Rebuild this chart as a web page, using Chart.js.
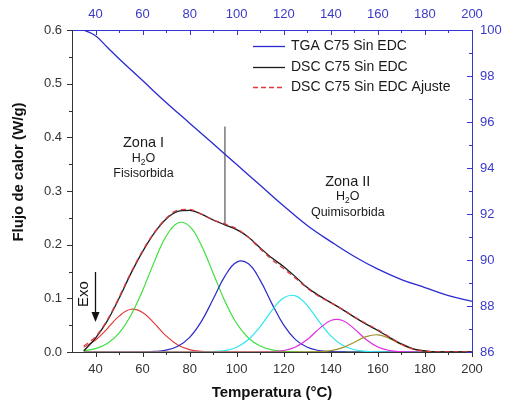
<!DOCTYPE html>
<html><head><meta charset="utf-8">
<script src="https://cdn.jsdelivr.net/npm/chart.js@4/dist/chart.umd.min.js"></script>
<style>html,body{margin:0;padding:0;background:#fff}#wrap{width:508px;height:410px}</style>
</head><body><div id="wrap"><canvas id="c" width="508" height="410"></canvas></div>
<script>
// ---- data ----
const temps = [35,40,45,50,55,60,65,70,75,80,85,90,95,100,105,110,115,120,125,130,135,140,145,150,155,160,165,170,175,180,185,190,195,200];
const dscMeasured = [0.002,0.026,0.058,0.100,0.146,0.187,0.222,0.248,0.262,0.264,0.257,0.246,0.237,0.228,0.214,0.194,0.175,0.159,0.140,0.120,0.105,0.092,0.079,0.065,0.052,0.040,0.027,0.015,0.006,0.002,0,0,0,0];
const dscFit = [0.011,0.0285,0.0596,0.102,0.1477,0.1887,0.2228,0.2491,0.2645,0.2658,0.2567,0.2463,0.2387,0.2297,0.2136,0.1921,0.172,0.155,0.1372,0.1186,0.1035,0.0919,0.0795,0.0656,0.053,0.0414,0.0277,0.0145,0.0055,0.0015,0.0003,0,0,0];
const peakRed = [0.0088,0.0222,0.0437,0.0668,0.0796,0.0738,0.0534,0.030,0.0132,0.0045,0.0012,0.0002,0,0,0,0,0,0,0,0,0,0,0,0,0,0,0,0,0,0,0,0,0,0];
const peakGreen = [0.0022,0.0063,0.0159,0.0352,0.0681,0.1147,0.1684,0.2156,0.2405,0.234,0.1985,0.1468,0.0946,0.0532,0.0261,0.0111,0.0041,0.0014,0.0004,0,0,0,0,0,0,0,0,0,0,0,0,0,0,0];
const peakBlue = [0,0,0,0,0,0.0002,0.001,0.0035,0.0108,0.0273,0.057,0.0986,0.1413,0.1675,0.1643,0.1335,0.0897,0.05,0.023,0.0088,0.0028,0.0007,0.0001,0,0,0,0,0,0,0,0,0,0,0];
const peakCyan = [0,0,0,0,0,0,0,0,0,0,0,0.0007,0.0028,0.009,0.0232,0.0475,0.0776,0.1009,0.1046,0.0865,0.057,0.0299,0.0125,0.0042,0.0011,0.0002,0,0,0,0,0,0,0,0];
const peakMagenta = [0,0,0,0,0,0,0,0,0,0,0,0,0,0,0,0,0.0006,0.0027,0.0092,0.0233,0.0431,0.0587,0.0587,0.0431,0.0233,0.0092,0.0027,0.0006,0.0001,0,0,0,0,0];
const peakOlive = [0,0,0,0,0,0,0,0,0,0,0,0,0,0,0,0,0,0,0,0,0.0006,0.0026,0.0082,0.0183,0.0286,0.032,0.025,0.0139,0.0054,0.0015,0.0003,0,0,0];
const tgaTemps = [35,40,45,50,60,70,80,90,100,110,120,130,140,150,160,170,180,190,200];
const tgaMass = [100.0,99.75,99.25,98.75,97.8,96.85,95.95,95.05,94.15,93.25,92.35,91.5,90.8,90.15,89.6,89.15,88.8,88.45,88.2];
const dividerTemps = [95,95];
const dividerFlow = [0.237,0.42];
const xTicks = [40,60,80,100,120,140,160,180,200];
const xMinorTicks = [50,70,90,110,130,150,170,190];
const yTicks = [0,0.1,0.2,0.3,0.4,0.5,0.6];
const yMinorTicks = [0.05,0.15,0.25,0.35,0.45,0.55];
const y2Ticks = [86,88,90,92,94,96,98,100];
const y2MinorTicks = [87,89,91,93,95,97,99];
const legendLabels = ['TGA C75 Sin EDC','DSC C75 Sin EDC','DSC C75 Sin EDC Ajuste'];

// ---- chart ----
const FONT = "'Liberation Sans', Arial, sans-serif";
Chart.defaults.font.family = FONT;
const AXIS = '#333333', BLUEAX = '#3535d6', BLUELBL = '#3b3bc8';
const pts = (xs, ys) => xs.map((x, i) => ({x, y: ys[i]}));

function comp(data, color, order){
  return {data: pts(temps, data), borderColor: color, borderWidth: 1.2, pointRadius: 0,
    tension: 0.4, fill: false, order, yAxisID: 'y', xAxisID: 'x'};
}

const overlay = {
  id: 'overlay',
  afterDraw(chart){
    const {ctx, chartArea: a, scales} = chart;
    const {x, y, y2} = scales;
    ctx.save();
    ctx.lineWidth = 1;
    const vt = (scale, vals, len, color, y0, dir) => {
      ctx.strokeStyle = color; ctx.beginPath();
      vals.forEach(v => { const p = Math.round(scale.getPixelForValue(v)) + 0.5; ctx.moveTo(p, y0); ctx.lineTo(p, y0 + dir*len); });
      ctx.stroke();
    };
    const ht = (scale, vals, len, color, x0, dir) => {
      ctx.strokeStyle = color; ctx.beginPath();
      vals.forEach(v => { const p = Math.round(scale.getPixelForValue(v)) + 0.5; ctx.moveTo(x0, p); ctx.lineTo(x0 + dir*len, p); });
      ctx.stroke();
    };
    vt(x, xTicks, 5, AXIS, a.bottom, 1);
    vt(x, xMinorTicks, 3, AXIS, a.bottom, 1);
    vt(x, xTicks, 5, BLUEAX, a.top, 1);
    vt(x, xMinorTicks, 3, BLUEAX, a.top, 1);
    ht(y, yTicks, 5, AXIS, a.left, -1);
    ht(y, yMinorTicks, 3, AXIS, a.left, -1);
    ht(y2, y2Ticks, 5, BLUEAX, a.right, -1);
    ht(y2, y2MinorTicks, 3, BLUEAX, a.right, -1);

    ctx.fillStyle = '#111';
    ctx.font = 'bold 15px ' + FONT;
    ctx.textAlign = 'center'; ctx.textBaseline = 'middle';
    ctx.fillText('Temperatura (°C)', (a.left + a.right)/2, 393);
    ctx.save(); ctx.translate(19, 172); ctx.rotate(-Math.PI/2);
    ctx.fillText('Flujo de calor (W/g)', 0, 0); ctx.restore();

    const lx0 = 253, lx1 = 285, rows = [46, 67, 87];
    const styles = [{c:'#2a2ad0', d:[]}, {c:'#1a1a1a', d:[]}, {c:'#e0393e', d:[5,3]}];
    ctx.font = '14px ' + FONT; ctx.textAlign = 'left'; ctx.textBaseline = 'middle';
    rows.forEach((ry, i) => {
      ctx.strokeStyle = styles[i].c; ctx.setLineDash(styles[i].d); ctx.lineWidth = 1.3;
      ctx.beginPath(); ctx.moveTo(lx0, ry + 0.5); ctx.lineTo(lx1, ry + 0.5); ctx.stroke();
      ctx.setLineDash([]);
      ctx.fillStyle = '#1a1a1a'; ctx.fillText(legendLabels[i], 291, ry);
    });

    const h2o = (cx, cy) => {
      ctx.font = '12.5px ' + FONT; ctx.textBaseline = 'middle'; ctx.textAlign = 'left';
      const wH = ctx.measureText('H').width, wO = ctx.measureText('O').width;
      ctx.font = '8.5px ' + FONT; const w2 = ctx.measureText('2').width;
      let sx = cx - (wH + w2 + wO)/2;
      ctx.font = '12.5px ' + FONT; ctx.fillText('H', sx, cy);
      ctx.font = '8.5px ' + FONT; ctx.fillText('2', sx + wH, cy + 4);
      ctx.font = '12.5px ' + FONT; ctx.fillText('O', sx + wH + w2, cy);
    };
    const cx1 = x.getPixelForValue(60.4), cx2 = x.getPixelForValue(147.2);
    ctx.fillStyle = '#1a1a1a'; ctx.textAlign = 'center'; ctx.textBaseline = 'middle';
    ctx.font = '14.5px ' + FONT;
    ctx.fillText('Zona I', cx1, y.getPixelForValue(0.389));
    ctx.fillText('Zona II', cx2, y.getPixelForValue(0.317));
    h2o(cx1, y.getPixelForValue(0.361));
    h2o(cx2, y.getPixelForValue(0.289));
    ctx.font = '12.5px ' + FONT; ctx.textAlign = 'center';
    ctx.fillText('Fisisorbida', cx1, y.getPixelForValue(0.333));
    ctx.fillText('Quimisorbida', cx2, y.getPixelForValue(0.260));

    const ax = Math.round(x.getPixelForValue(39.6)) + 0.5;
    const ay0 = y.getPixelForValue(0.149), ay1 = y.getPixelForValue(0.056);
    ctx.strokeStyle = '#111'; ctx.lineWidth = 1.3;
    ctx.beginPath(); ctx.moveTo(ax, ay0); ctx.lineTo(ax, ay1 - 6); ctx.stroke();
    ctx.fillStyle = '#111'; ctx.beginPath();
    ctx.moveTo(ax - 4, ay1 - 10); ctx.lineTo(ax + 4, ay1 - 10); ctx.lineTo(ax, ay1); ctx.closePath(); ctx.fill();
    ctx.save(); ctx.translate(ax - 12, (ay0 + ay1)/2 - 3); ctx.rotate(-Math.PI/2);
    ctx.font = '15px ' + FONT; ctx.textAlign = 'center'; ctx.textBaseline = 'middle';
    ctx.fillText('Exo', 0, 0); ctx.restore();
    ctx.restore();
  }
};

new Chart(document.getElementById('c'), {
  type: 'line',
  data: {
    datasets: [
      {data: pts(tgaTemps, tgaMass), borderColor: '#2a2ad0', borderWidth: 1.3, pointRadius: 0, tension: 0.4, yAxisID: 'y2', xAxisID: 'x', order: 0},
      {data: pts(temps, dscFit), borderColor: '#e0393e', borderDash: [5,4], borderWidth: 1.3, pointRadius: 0, cubicInterpolationMode: 'monotone', yAxisID: 'y', xAxisID: 'x', order: 1},
      {data: pts(temps, dscMeasured), borderColor: '#1a1a1a', borderWidth: 1.3, pointRadius: 0, cubicInterpolationMode: 'monotone', yAxisID: 'y', xAxisID: 'x', order: 2},
      {data: pts(dividerTemps, dividerFlow), borderColor: '#555555', borderWidth: 1.2, pointRadius: 0, yAxisID: 'y', xAxisID: 'x', order: 3},
      comp(peakOlive, '#a0902a', 4),
      comp(peakMagenta, '#e02ee0', 5),
      comp(peakCyan, '#2ee6ee', 6),
      comp(peakBlue, '#2a2ac8', 7),
      comp(peakGreen, '#3ee03e', 8),
      comp(peakRed, '#e03a3a', 9)
    ]
  },
  options: {
    responsive: false, animation: false, devicePixelRatio: 1,
    layout: {padding: 0},
    plugins: {legend: {display: false}, tooltip: {enabled: false}},
    scales: {
      x: {type: 'linear', position: 'bottom', min: 30, max: 200,
        afterBuildTicks: s => { s.ticks = xTicks.map(v => ({value: v})); },
        afterFit: s => { s.height = 58; },
        grid: {display: false, drawTicks: false},
        border: {display: true, color: AXIS, width: 1},
        ticks: {color: AXIS, font: {size: 13}, padding: 10, maxRotation: 0, autoSkip: false}},
      x2: {type: 'linear', position: 'top', min: 30, max: 200,
        afterBuildTicks: s => { s.ticks = xTicks.map(v => ({value: v})); },
        afterFit: s => { s.height = 30; },
        grid: {display: false, drawTicks: false},
        border: {display: true, color: BLUEAX, width: 1},
        ticks: {color: BLUELBL, font: {size: 13}, padding: 8, maxRotation: 0, autoSkip: false}},
      y: {type: 'linear', position: 'left', min: 0, max: 0.6,
        afterBuildTicks: s => { s.ticks = yTicks.map(v => ({value: v})); },
        afterFit: s => { s.width = 72; },
        grid: {display: false, drawTicks: false},
        border: {display: true, color: AXIS, width: 1},
        ticks: {color: AXIS, font: {size: 13}, padding: 10, callback: v => v.toFixed(1)}},
      y2: {type: 'linear', position: 'right', min: 86, max: 100,
        afterBuildTicks: s => { s.ticks = y2Ticks.map(v => ({value: v})); },
        afterFit: s => { s.width = 36; },
        grid: {display: false, drawTicks: false},
        border: {display: true, color: BLUEAX, width: 1},
        ticks: {color: BLUELBL, font: {size: 13}, padding: 8}}
    }
  },
  plugins: [overlay]
});
</script>
</body></html>
